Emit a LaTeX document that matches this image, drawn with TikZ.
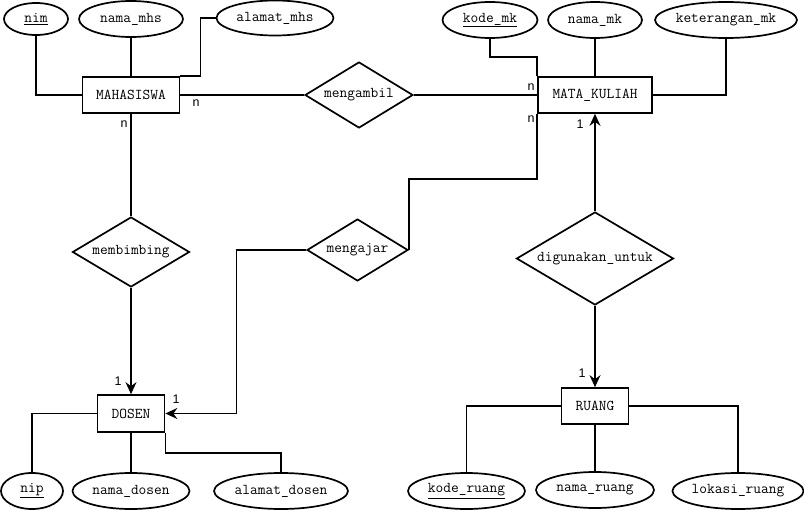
\documentclass[tikz,border=0pt]{standalone}
\usepackage{fontspec}
\setsansfont{Liberation Sans}
\usetikzlibrary{shapes.geometric,arrows.meta}
\tikzset{ent/.style={draw, rectangle, inner sep=0, minimum height=36},
 atr/.style={draw, ellipse, inner sep=0, minimum height=36},
 rel/.style={draw, diamond, inner sep=0, shape aspect=1.65},
 card/.style={font=\sffamily\fontsize{12.5}{14}\selectfont, inner sep=0},
 arr/.style={-{Stealth[length=12pt,width=11pt,inset=4pt]}},
 }

\begin{document}
\begin{tikzpicture}[x=1pt, y=-1pt, line width=1.7pt,
        font=\ttfamily\fontsize{15}{17}\selectfont]
        \useasboundingbox (0,0) rectangle (804,511);
        % entitas
        \node[ent, minimum width=97] (mhs) at (131,95) {MAHASISWA};
        \node[ent, minimum width=114] (mk) at (595,95) {MATA\_KULIAH};
        \node[ent, minimum width=67, minimum height=37] (dosen) at (131,413.5) {DOSEN};
        \node[ent, minimum width=67] (ruang) at (595,406) {RUANG};
        % relasi
        \node[rel, minimum width=108, minimum height=66] (ambil) at (359,95) {mengambil};
        \node[rel, minimum width=117, minimum height=70] (bimbing) at (131,252) {membimbing};
        \node[rel, minimum width=101, minimum height=62] (ajar) at (357.5,250) {mengajar};
        \node[rel, minimum width=157, minimum height=93] (guna) at (595,258.5) {digunakan\_untuk};
        % atribut
        \node[atr, minimum width=64, minimum height=32] (nim) at (36,19) {\underline{nim}};
        \node[atr, minimum width=104] (namamhs) at (131,19) {nama\_mhs};
        \node[atr, minimum width=117, minimum height=35] (almhs) at (275,18) {alamat\_mhs};
        \node[atr, minimum width=95] (kodemk) at (490,20) {\underline{kode\_mk}};
        \node[atr, minimum width=94] (namamk) at (595,20) {nama\_mk};
        \node[atr, minimum width=142] (ketmk) at (726,20) {keterangan\_mk};
        \node[atr, minimum width=62] (nip) at (32,491) {\underline{nip}};
        \node[atr, minimum width=117] (namadsn) at (131,491) {nama\_dosen};
        \node[atr, minimum width=134] (aldsn) at (281,491) {alamat\_dosen};
        \node[atr, minimum width=117] (koderg) at (466.5,491) {\underline{kode\_ruang}};
        \node[atr, minimum width=118] (namarg) at (595,490) {nama\_ruang};
        \node[atr, minimum width=130] (lokrg) at (738,491) {lokasi\_ruang};
        % garis atribut
        \draw (nim.south) |- (mhs.west);
        \draw (namamhs.south) -- (mhs.north);
        \draw (almhs.west) -| ([xshift=20pt]mhs.north east) -- (mhs.north east);
        \draw (kodemk.south) |- ([yshift=19pt]mk.north west) -- (mk.north west);
        \draw (namamk.south) -- (mk.north);
        \draw (ketmk.south) |- (mk.east);
        \draw (dosen.west) -| (nip.north);
        \draw (dosen.south) -- (namadsn.north);
        \draw (dosen.south east) -- ++(0,20) -| (aldsn.north);
        \draw (ruang.west) -| (koderg.north);
        \draw (ruang.south) -- (namarg.north);
        \draw (ruang.east) -| (lokrg.north);
        % garis relasi
        \draw (mhs.east) -- (ambil.west);
        \draw (ambil.east) -- (mk.west);
        \draw (mhs.south) -- (bimbing.north);
        \draw[arr] (bimbing.south) -- (dosen.north);
        \draw (ajar.east) |- ([yshift=-65pt]mk.south west) -- (mk.south west);
        \draw[arr] (ajar.west) -| ([xshift=71pt]dosen.east) -- (dosen.east);
        \draw[arr] (guna.north) -- (mk.south);
        \draw[arr] (guna.south) -- (ruang.north);
        % kardinalitas
        \node[card] (c1) at (196,103) {n};
        \node[card] (c2) at (124,124) {n};
        \node[card] (c3) at (531,87) {n};
        \node[card] (c4) at (531,119) {n};
        \node[card] (c5) at (580,124) {1};
        \node[card] (c6) at (118,381) {1};
        \node[card] (c7) at (176,399) {1};
        \node[card] (c8) at (582,373) {1};
    \end{tikzpicture}
\end{document}
